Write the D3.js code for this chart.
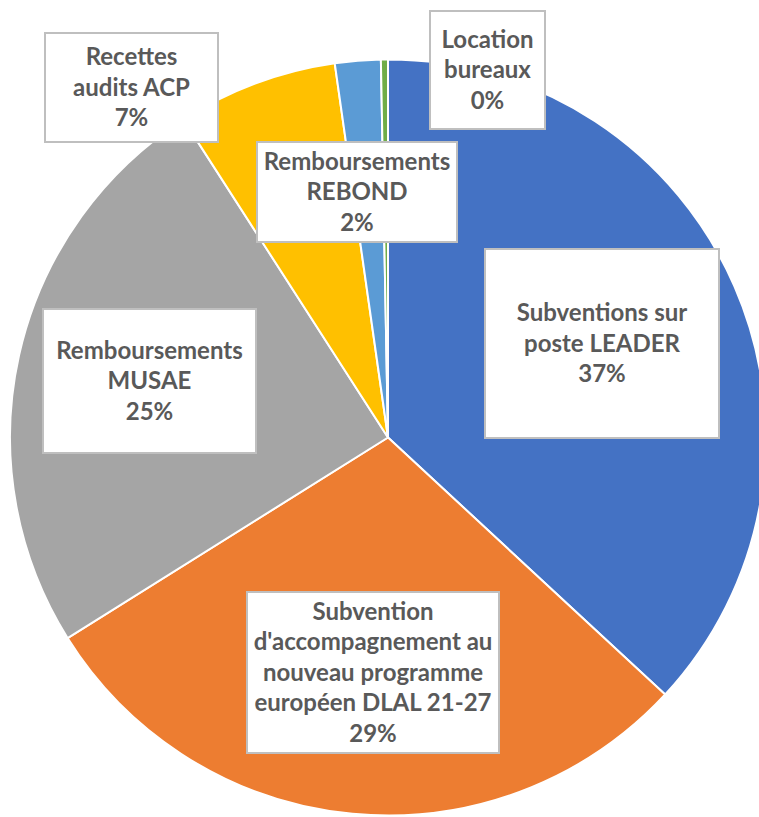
<!DOCTYPE html>
<html><head><meta charset="utf-8">
<script src="https://cdn.jsdelivr.net/npm/d3@7"></script>
<style>
html,body{margin:0;padding:0;background:#fff;}
svg{display:block;}
</style></head>
<body>
<script>
// Data
const categories = [
  "Subventions sur poste LEADER",
  "Subvention d'accompagnement au nouveau programme européen DLAL 21-27",
  "Remboursements MUSAE",
  "Recettes audits ACP",
  "Remboursements REBOND",
  "Location bureaux"
];
const labelLines = [
  ["Subventions sur", "poste LEADER"],
  ["Subvention", "d'accompagnement au", "nouveau programme", "européen DLAL 21-27"],
  ["Remboursements", "MUSAE"],
  ["Recettes", "audits ACP"],
  ["Remboursements", "REBOND"],
  ["Location", "bureaux"]
];
const values = [36.9, 29.2, 24.8, 6.85, 1.95, 0.3];
const colors = ["#4472c4", "#ed7d31", "#a5a5a5", "#ffc000", "#5b9bd5", "#70ad47"];

// Layout (label boxes: x0, y0, x1, y1)
const boxes = [
  [485, 249, 719, 438],
  [247, 592, 499, 753],
  [43, 309, 256, 453],
  [45, 33, 218, 142],
  [257, 142, 457, 242],
  [430, 11, 545, 129]
];

const W = 759, H = 817;
const cx = 388, cy = 437.5, R = 378;

const svg = d3.select("body").append("svg").attr("width", W).attr("height", H);

const total = d3.sum(values);
const pie = d3.pie().sort(null).value(d => d)(values);
const arc = d3.arc().innerRadius(0).outerRadius(R);

const g = svg.append("g").attr("transform", `translate(${cx},${cy})`);
g.selectAll("path").data(pie).enter().append("path")
  .attr("d", arc)
  .attr("fill", (d, i) => colors[i])
  .attr("stroke", "#fff").attr("stroke-width", 2).attr("stroke-linejoin", "round");

const fmt = d3.format(".0%");
const fontFamily = "Lato, 'Open Sans', sans-serif";
const fontSize = 24;
const lineH = 30.5;

const lg = svg.append("g");
pie.forEach((d, i) => {
  const b = boxes[i];
  lg.append("rect")
    .attr("x", b[0]).attr("y", b[1])
    .attr("width", b[2] - b[0]).attr("height", b[3] - b[1])
    .attr("fill", "#fff").attr("stroke", "#bfbfbf").attr("stroke-width", 2);
  const lines = labelLines[i].concat([fmt(values[i] / total)]);
  const mx = (b[0] + b[2]) / 2, my = (b[1] + b[3]) / 2;
  const t = lg.append("text")
    .attr("text-anchor", "middle")
    .attr("font-family", fontFamily)
    .attr("font-weight", "bold")
    .attr("font-size", fontSize)
    .attr("fill", "#595959");
  lines.forEach((ln, k) => {
    t.append("tspan").attr("x", mx)
      .attr("y", my + (k - (lines.length - 1) / 2) * lineH)
      .attr("dy", "0.35em")
      .text(ln);
  });
});
</script>
</body></html>
